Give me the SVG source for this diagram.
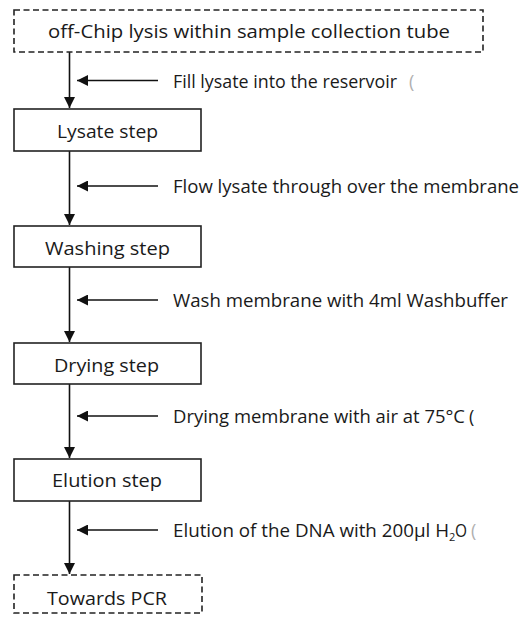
<svg xmlns="http://www.w3.org/2000/svg" width="522" height="617" viewBox="0 0 522 617">
<style>
.box{fill:#fff;stroke:#222;stroke-width:1.6}
.dash{fill:#fff;stroke:#222;stroke-width:1.6;stroke-dasharray:6 3.5}
.t{font-family:"Open Sans","Liberation Sans",Arial,sans-serif;font-size:18px;fill:#1a1a1a}
.c{text-anchor:middle}
.ln{stroke:#111;stroke-width:1.6;fill:none}
.faint{fill:#b0b0b0}
</style>
<defs>
<marker id="ah" markerUnits="userSpaceOnUse" markerWidth="11" markerHeight="11" refX="11" refY="5.5" orient="auto" viewBox="0 0 11 11">
<path d="M0,0 L11,5.5 L0,11 z" fill="#111"/>
</marker>
</defs>
<rect width="522" height="617" fill="#fff"/>
<g id="connectors">
<line class="ln" x1="69.5" y1="52" x2="69.5" y2="108" marker-end="url(#ah)"/>
<line class="ln" x1="69.5" y1="151" x2="69.5" y2="225" marker-end="url(#ah)"/>
<line class="ln" x1="69.5" y1="267" x2="69.5" y2="342" marker-end="url(#ah)"/>
<line class="ln" x1="69.5" y1="384" x2="69.5" y2="458" marker-end="url(#ah)"/>
<line class="ln" x1="69.5" y1="501" x2="69.5" y2="574" marker-end="url(#ah)"/>
<line class="ln" x1="158" y1="80.5" x2="77" y2="80.5" marker-end="url(#ah)"/>
<line class="ln" x1="158" y1="186" x2="77" y2="186" marker-end="url(#ah)"/>
<line class="ln" x1="158" y1="300" x2="77" y2="300" marker-end="url(#ah)"/>
<line class="ln" x1="158" y1="416" x2="77" y2="416" marker-end="url(#ah)"/>
<line class="ln" x1="158" y1="530" x2="77" y2="530" marker-end="url(#ah)"/>
</g>
<g id="n-lysis">
<rect class="dash" x="14" y="10" width="469" height="42"/>
<text class="t" x="48" y="38" textLength="402" lengthAdjust="spacingAndGlyphs">off-Chip lysis within sample collection tube</text>
</g>
<g id="n-lysate">
<rect class="box" x="14" y="109" width="187" height="42"/>
<text class="t" x="57" y="138" textLength="101" lengthAdjust="spacingAndGlyphs">Lysate step</text>
</g>
<g id="n-washing">
<rect class="box" x="14" y="226" width="187" height="41"/>
<text class="t" x="45" y="255" textLength="125" lengthAdjust="spacingAndGlyphs">Washing step</text>
</g>
<g id="n-drying">
<rect class="box" x="14" y="343" width="187" height="41"/>
<text class="t" x="54" y="372" textLength="105" lengthAdjust="spacingAndGlyphs">Drying step</text>
</g>
<g id="n-elution">
<rect class="box" x="14" y="459" width="187" height="42"/>
<text class="t" x="52" y="487" textLength="110" lengthAdjust="spacingAndGlyphs">Elution step</text>
</g>
<g id="n-pcr">
<rect class="dash" x="14" y="575" width="188" height="38"/>
<text class="t" x="47" y="605" textLength="120" lengthAdjust="spacingAndGlyphs">Towards PCR</text>
</g>
<g id="labels">
<text class="t" x="173" y="88" textLength="224" lengthAdjust="spacingAndGlyphs">Fill lysate into the reservoir</text>
<text class="t faint" x="409" y="88">(</text>
<text class="t" x="173" y="193" textLength="346" lengthAdjust="spacingAndGlyphs">Flow lysate through over the membrane</text>
<text class="t" x="173" y="307" textLength="335" lengthAdjust="spacingAndGlyphs">Wash membrane with 4ml Washbuffer</text>
<text class="t" x="173" y="423" textLength="292" lengthAdjust="spacingAndGlyphs">Drying membrane with air at 75°C</text>
<text class="t" x="469" y="423">(</text>
<text class="t" x="173" y="537" textLength="276" lengthAdjust="spacingAndGlyphs">Elution of the DNA with 200µl H</text>
<text class="t" x="449" y="541" style="font-size:11px">2</text>
<text class="t" x="455" y="537" textLength="12" lengthAdjust="spacingAndGlyphs">O</text>
<text class="t faint" x="471" y="537">(</text>
</g>
</svg>
